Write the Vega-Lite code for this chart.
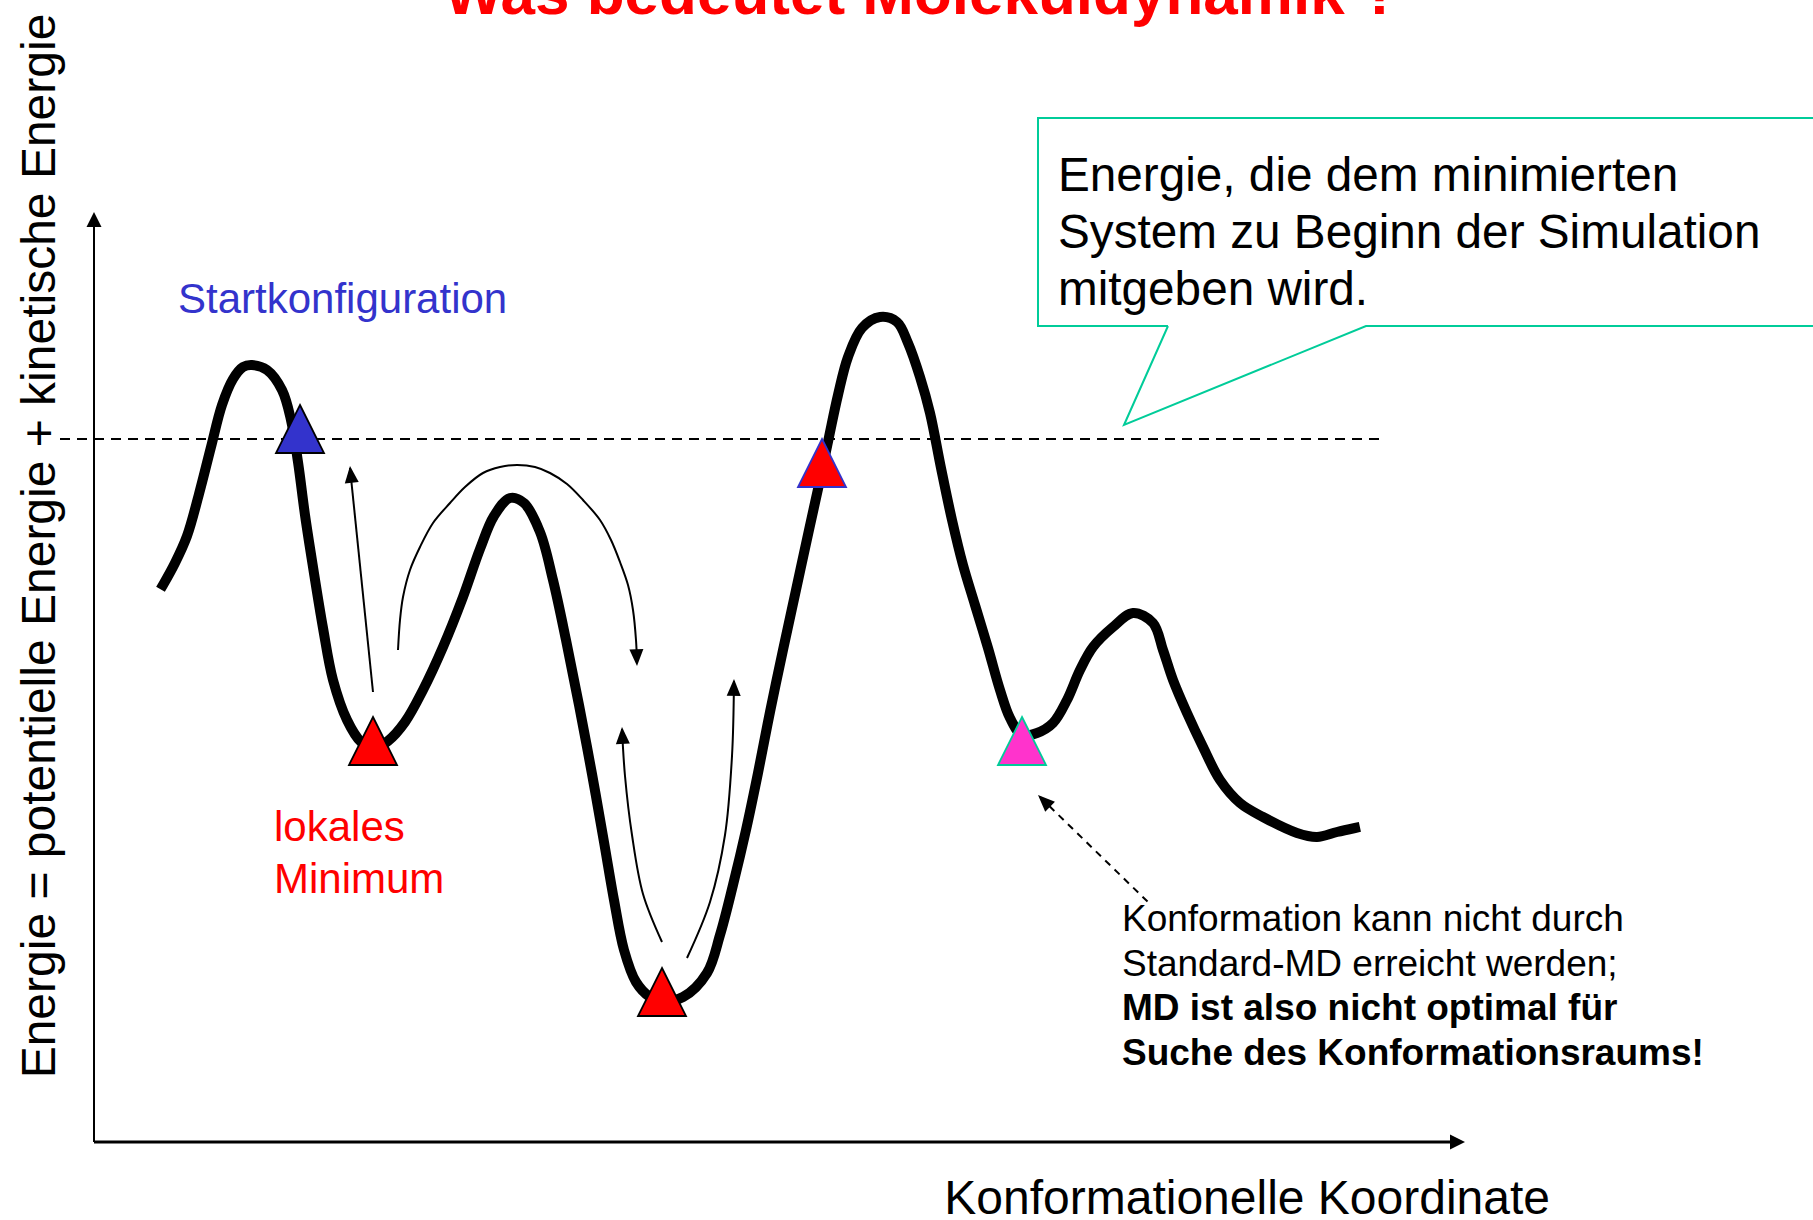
{
  "$schema": "https://vega.github.io/schema/vega-lite/v6.json",
  "width": 1813,
  "height": 1220,
  "autosize": {"type": "none"},
  "padding": 0,
  "background": "white",
  "config": {"view": {"stroke": null}, "font": "Liberation Sans"},
  "datasets": {
    "curve": [
      {"x":163,"y":585},{"x":175,"y":563},{"x":187,"y":536},{"x":199,"y":494},{"x":211,"y":447},{"x":222,"y":405},{"x":233,"y":379},{"x":243,"y":367},{"x":252,"y":365},{"x":267,"y":370},{"x":282,"y":390},{"x":291,"y":420},{"x":298,"y":462},{"x":305,"y":515},{"x":313,"y":567},{"x":323,"y":628},{"x":333,"y":680},{"x":347,"y":720},{"x":361,"y":742},{"x":373,"y":749},{"x":388,"y":741},{"x":405,"y":722},{"x":423,"y":690},{"x":443,"y":647},{"x":463,"y":597},{"x":480,"y":549},{"x":494,"y":516},{"x":510,"y":498},{"x":524,"y":503},{"x":540,"y":532},{"x":553,"y":580},{"x":566,"y":640},{"x":579,"y":705},{"x":592,"y":774},{"x":604,"y":842},{"x":614,"y":900},{"x":624,"y":950},{"x":636,"y":982},{"x":650,"y":997},{"x":662,"y":1001},{"x":683,"y":997},{"x":707,"y":973},{"x":720,"y":935},{"x":733,"y":885},{"x":746,"y":830},{"x":758,"y":773},{"x":770,"y":712},{"x":783,"y":650},{"x":796,"y":590},{"x":809,"y":530},{"x":820,"y":480},{"x":829,"y":437},{"x":838,"y":395},{"x":848,"y":357},{"x":862,"y":328},{"x":880,"y":317},{"x":897,"y":322},{"x":908,"y":343},{"x":920,"y":377},{"x":930,"y":413},{"x":941,"y":468},{"x":952,"y":520},{"x":963,"y":565},{"x":975,"y":605},{"x":988,"y":648},{"x":1000,"y":690},{"x":1010,"y":718},{"x":1022,"y":735},{"x":1037,"y":733},{"x":1053,"y":723},{"x":1067,"y":700},{"x":1080,"y":670},{"x":1093,"y":647},{"x":1113,"y":627},{"x":1133,"y":613},{"x":1153,"y":623},{"x":1163,"y":650},{"x":1173,"y":680},{"x":1187,"y":713},{"x":1203,"y":747},{"x":1220,"y":780},{"x":1240,"y":803},{"x":1263,"y":817},{"x":1297,"y":833},{"x":1317,"y":837},{"x":1337,"y":832},{"x":1355,"y":828}
    ],
    "callout": [
      {"o":1,"x":1168,"y":326},{"o":2,"x":1124,"y":425},{"o":3,"x":1366,"y":326},{"o":4,"x":1830,"y":326},{"o":5,"x":1830,"y":118},{"o":6,"x":1038,"y":118},{"o":7,"x":1038,"y":326},{"o":8,"x":1168,"y":326}
    ],
    "axes": [
      {"g":"v","o":1,"x":94,"y":1142},{"g":"v","o":2,"x":94,"y":222},
      {"g":"h","o":1,"x":94,"y":1142},{"g":"h","o":2,"x":1452,"y":1142}
    ],
    "axisHeads": [
      {"x":94,"y":212,"a":0},{"x":1465,"y":1142,"a":90}
    ],
    "energyLine": [
      {"x":60,"y":439},{"x":1380,"y":439}
    ],
    "arrows": [
      {"g":"a1","o":1,"x":373,"y":692},{"g":"a1","o":2,"x":350,"y":468},
      {"g":"a2","o":1,"x":398,"y":650},{"g":"a2","o":2,"x":400,"y":620},{"g":"a2","o":3,"x":403,"y":597},{"g":"a2","o":4,"x":410,"y":570},{"g":"a2","o":5,"x":420,"y":547},{"g":"a2","o":6,"x":433,"y":523},{"g":"a2","o":7,"x":450,"y":503},{"g":"a2","o":8,"x":465,"y":487},{"g":"a2","o":9,"x":483,"y":473},{"g":"a2","o":10,"x":500,"y":467},{"g":"a2","o":11,"x":517,"y":465},{"g":"a2","o":12,"x":535,"y":467},{"g":"a2","o":13,"x":550,"y":473},{"g":"a2","o":14,"x":567,"y":484},{"g":"a2","o":15,"x":583,"y":500},{"g":"a2","o":16,"x":600,"y":520},{"g":"a2","o":17,"x":611,"y":540},{"g":"a2","o":18,"x":620,"y":562},{"g":"a2","o":19,"x":628,"y":585},{"g":"a2","o":20,"x":633,"y":610},{"g":"a2","o":21,"x":636,"y":640},{"g":"a2","o":22,"x":637,"y":662},
      {"g":"a3","o":1,"x":662,"y":942},{"g":"a3","o":2,"x":643,"y":894},{"g":"a3","o":3,"x":632,"y":835},{"g":"a3","o":4,"x":625,"y":776},{"g":"a3","o":5,"x":622,"y":729},
      {"g":"a4","o":1,"x":687,"y":958},{"g":"a4","o":2,"x":710,"y":902},{"g":"a4","o":3,"x":725,"y":835},{"g":"a4","o":4,"x":732,"y":756},{"g":"a4","o":5,"x":734,"y":681}
    ],
    "dashArrow": [
      {"x":1150,"y":904},{"x":1040,"y":797}
    ],
    "heads": [
      {"x":350,"y":466,"a":-6},{"x":637,"y":666,"a":178},{"x":622,"y":727,"a":-3},{"x":734,"y":679,"a":1},{"x":1038,"y":795,"a":-46}
    ],
    "states": [
      {"typ":"Start","x":300,"y":429},
      {"typ":"lokal","x":373,"y":741},
      {"typ":"Energie","x":822,"y":463},
      {"typ":"global","x":662,"y":992},
      {"typ":"unerreichbar","x":1022,"y":741}
    ],
    "title": [{"x":922,"y":14,"t":"Was bedeutet Moleküldynamik ?"}],
    "ylab": [{"x":55,"y":546,"t":"Energie = potentielle Energie + kinetische Energie"}],
    "xlab": [{"x":1550,"y":1214,"t":"Konformationelle Koordinate"}],
    "start": [{"x":178,"y":313,"t":"Startkonfiguration"}],
    "lokal": [{"x":274,"y":841,"t":["lokales","Minimum"]}],
    "calloutText": [{"x":1058,"y":191,"t":["Energie, die dem minimierten","System zu Beginn der Simulation","mitgeben wird."]}],
    "note": [{"x":1122,"y":931,"t":["Konformation kann nicht durch","Standard-MD erreicht werden;"]}],
    "noteBold": [{"x":1122,"y":1020,"t":["MD ist also nicht optimal für","Suche des Konformationsraums!"]}]
  },
  "encoding": {
    "x": {"field": "x", "type": "quantitative", "scale": {"domain": [0, 1813], "nice": false, "zero": false}, "axis": null},
    "y": {"field": "y", "type": "quantitative", "scale": {"domain": [0, 1220], "nice": false, "zero": false, "reverse": true}, "axis": null}
  },
  "layer": [
    {
      "data": {"name": "callout"},
      "mark": {"type": "line", "stroke": "#00CC99", "strokeWidth": 2, "strokeJoin": "miter"},
      "encoding": {"order": {"field": "o", "type": "quantitative"}}
    },
    {
      "data": {"name": "axes"},
      "transform": [{"filter": "datum.g == 'v'"}],
      "mark": {"type": "line", "stroke": "black", "strokeWidth": 2},
      "encoding": {"order": {"field": "o", "type": "quantitative"}}
    },
    {
      "data": {"name": "axes"},
      "transform": [{"filter": "datum.g == 'h'"}],
      "mark": {"type": "line", "stroke": "black", "strokeWidth": 3},
      "encoding": {"order": {"field": "o", "type": "quantitative"}}
    },
    {
      "data": {"name": "axisHeads"},
      "mark": {"type": "point", "shape": "M0,0L-1,2L1,2Z", "size": 225, "filled": true, "fill": "black", "opacity": 1, "strokeWidth": 0},
      "encoding": {"angle": {"field": "a", "type": "quantitative", "scale": null}}
    },
    {
      "data": {"name": "energyLine"},
      "mark": {"type": "line", "stroke": "black", "strokeWidth": 2, "strokeDash": [10, 7]},
      "encoding": {}
    },
    {
      "data": {"name": "arrows"},
      "mark": {"type": "line", "stroke": "black", "strokeWidth": 2, "interpolate": "catmull-rom"},
      "encoding": {
        "detail": {"field": "g", "type": "nominal"},
        "order": {"field": "o", "type": "quantitative"}
      }
    },
    {
      "data": {"name": "dashArrow"},
      "mark": {"type": "line", "stroke": "black", "strokeWidth": 2, "strokeDash": [7, 6]},
      "encoding": {}
    },
    {
      "data": {"name": "heads"},
      "mark": {"type": "point", "shape": "M0,0L-1,2.4L1,2.4Z", "size": 196, "filled": true, "fill": "black", "opacity": 1, "strokeWidth": 0},
      "encoding": {"angle": {"field": "a", "type": "quantitative", "scale": null}}
    },
    {
      "data": {"name": "curve"},
      "mark": {"type": "line", "stroke": "black", "strokeWidth": 10, "interpolate": "catmull-rom", "strokeJoin": "round", "strokeCap": "square"},
      "encoding": {}
    },
    {
      "data": {"name": "states"},
      "mark": {"type": "point", "shape": "M0,-1L1,1L-1,1Z", "size": 2304, "filled": true, "opacity": 1, "strokeWidth": 1.8},
      "encoding": {
        "fill": {"field": "typ", "type": "nominal", "legend": null, "scale": {"domain": ["Start", "lokal", "Energie", "global", "unerreichbar"], "range": ["#3333CC", "#FF0000", "#FF0000", "#FF0000", "#FF33CC"]}},
        "stroke": {"field": "typ", "type": "nominal", "legend": null, "scale": {"domain": ["Start", "lokal", "Energie", "global", "unerreichbar"], "range": ["#000000", "#000000", "#3333CC", "#000000", "#00CC99"]}}
      }
    },
    {
      "data": {"name": "title"},
      "mark": {"type": "text", "font": "Liberation Sans", "fontSize": 62, "fontWeight": "bold", "fill": "#FF0000", "align": "center", "baseline": "alphabetic"},
      "encoding": {"text": {"field": "t"}}
    },
    {
      "data": {"name": "ylab"},
      "mark": {"type": "text", "font": "Liberation Sans", "fontSize": 48, "fill": "black", "align": "center", "baseline": "alphabetic", "angle": 270},
      "encoding": {"text": {"field": "t"}}
    },
    {
      "data": {"name": "xlab"},
      "mark": {"type": "text", "font": "Liberation Sans", "fontSize": 48, "fill": "black", "align": "right", "baseline": "alphabetic"},
      "encoding": {"text": {"field": "t"}}
    },
    {
      "data": {"name": "start"},
      "mark": {"type": "text", "font": "Liberation Sans", "fontSize": 42, "fill": "#3333CC", "align": "left", "baseline": "alphabetic"},
      "encoding": {"text": {"field": "t"}}
    },
    {
      "data": {"name": "lokal"},
      "mark": {"type": "text", "font": "Liberation Sans", "fontSize": 42, "lineHeight": 52, "fill": "#FF0000", "align": "left", "baseline": "alphabetic"},
      "encoding": {"text": {"field": "t"}}
    },
    {
      "data": {"name": "calloutText"},
      "mark": {"type": "text", "font": "Liberation Sans", "fontSize": 47.7, "lineHeight": 57, "fill": "black", "align": "left", "baseline": "alphabetic"},
      "encoding": {"text": {"field": "t"}}
    },
    {
      "data": {"name": "note"},
      "mark": {"type": "text", "font": "Liberation Sans", "fontSize": 37, "lineHeight": 44.5, "fill": "black", "align": "left", "baseline": "alphabetic"},
      "encoding": {"text": {"field": "t"}}
    },
    {
      "data": {"name": "noteBold"},
      "mark": {"type": "text", "font": "Liberation Sans", "fontSize": 37, "lineHeight": 44.5, "fontWeight": "bold", "fill": "black", "align": "left", "baseline": "alphabetic"},
      "encoding": {"text": {"field": "t"}}
    }
  ]
}
